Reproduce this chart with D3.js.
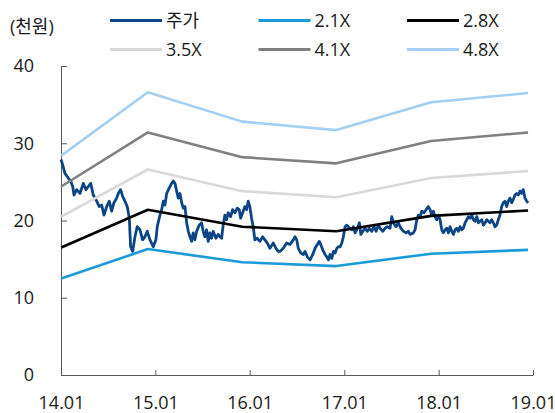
<!DOCTYPE html>
<html>
<head>
<meta charset="utf-8">
<script src="https://cdn.jsdelivr.net/npm/d3@7"></script>
<style>
  html, body { margin: 0; padding: 0; background: #fff; }
  svg { display: block; font-family: "Open Sans", "Noto Sans CJK KR", sans-serif; }
</style>
</head>
<body>
<svg id="chart" width="555" height="413"></svg>
<script>
// Price band (PBR multiple) lines, sampled at year-end points
const bandDates = ["2014-01-02", "2014-12-03", "2015-12-03", "2016-12-01", "2017-12-03", "2018-12-13"];
const band21 = [12.5, 16.3, 14.6, 14.1, 15.7, 16.2];
const band28 = [16.5, 21.4, 19.2, 18.6, 20.6, 21.3];
const band35 = [20.5, 26.6, 23.8, 23.0, 25.5, 26.4];
const band41 = [24.4, 31.4, 28.2, 27.4, 30.3, 31.4];
const band48 = [28.4, 36.6, 32.8, 31.7, 35.3, 36.5];

// Share price (천원), time given as decimal years
const priceYears = [
  2014.000, 2014.018, 2014.042, 2014.077, 2014.103, 2014.124, 2014.138, 2014.166, 2014.201, 2014.236,
  2014.265, 2014.289, 2014.315, 2014.342, 2014.378, 2014.406, 2014.431, 2014.456, 2014.484, 2014.512,
  2014.537, 2014.561, 2014.590, 2014.607, 2014.632, 2014.654, 2014.678, 2014.702, 2014.724, 2014.731,
  2014.738, 2014.760, 2014.784, 2014.808, 2014.837, 2014.865, 2014.890, 2014.914, 2014.943, 2014.978,
  2015.006, 2015.020, 2015.049, 2015.067, 2015.084, 2015.102, 2015.120, 2015.147, 2015.173, 2015.190,
  2015.208, 2015.226, 2015.243, 2015.261, 2015.279, 2015.296, 2015.314, 2015.332, 2015.349, 2015.367,
  2015.385, 2015.401, 2015.419, 2015.438, 2015.465, 2015.490, 2015.507, 2015.525, 2015.543, 2015.560,
  2015.578, 2015.596, 2015.613, 2015.642, 2015.666, 2015.684, 2015.702, 2015.719, 2015.737, 2015.755,
  2015.772, 2015.798, 2015.819, 2015.843, 2015.868, 2015.889, 2015.904, 2015.925, 2015.949, 2015.967,
  2015.984, 2016.002, 2016.020, 2016.037, 2016.055, 2016.079, 2016.108, 2016.137, 2016.161, 2016.185,
  2016.214, 2016.249, 2016.278, 2016.302, 2016.320, 2016.355, 2016.391, 2016.426, 2016.461, 2016.479,
  2016.497, 2016.514, 2016.539, 2016.567, 2016.585, 2016.609, 2016.638, 2016.667, 2016.691, 2016.715,
  2016.736, 2016.751, 2016.772, 2016.797, 2016.815, 2016.832, 2016.850, 2016.868, 2016.885, 2016.903,
  2016.921, 2016.938, 2016.956, 2016.974, 2016.990, 2017.008, 2017.026, 2017.043, 2017.061, 2017.079,
  2017.096, 2017.114, 2017.132, 2017.160, 2017.175, 2017.196, 2017.220, 2017.245, 2017.266, 2017.291,
  2017.316, 2017.337, 2017.361, 2017.379, 2017.408, 2017.432, 2017.457, 2017.485, 2017.503, 2017.520,
  2017.549, 2017.573, 2017.599, 2017.627, 2017.655, 2017.679, 2017.697, 2017.732, 2017.750, 2017.768,
  2017.785, 2017.803, 2017.821, 2017.845, 2017.867, 2017.891, 2017.909, 2017.927, 2017.944, 2017.962,
  2017.980, 2017.997, 2018.015, 2018.033, 2018.050, 2018.068, 2018.086, 2018.103, 2018.121, 2018.139,
  2018.156, 2018.174, 2018.192, 2018.209, 2018.227, 2018.245, 2018.262, 2018.280, 2018.298, 2018.315,
  2018.333, 2018.351, 2018.368, 2018.386, 2018.404, 2018.421, 2018.439, 2018.457, 2018.474, 2018.492,
  2018.510, 2018.527, 2018.544, 2018.562, 2018.580, 2018.597, 2018.615, 2018.632, 2018.650, 2018.668,
  2018.685, 2018.703, 2018.721, 2018.738, 2018.756, 2018.774, 2018.791, 2018.809, 2018.827, 2018.844,
  2018.862, 2018.880, 2018.897, 2018.915, 2018.933, 2018.950
];
const priceValues = [
  27.9, 27.2, 26.1, 25.5, 25.1, 24.4, 23.3, 24.0, 23.5, 24.8,
  24.0, 24.4, 24.8, 23.3, 22.5, 21.8, 22.0, 20.7, 21.8, 22.5,
  21.2, 22.3, 22.9, 23.5, 24.0, 23.1, 22.5, 21.8, 20.3, 18.4,
  16.6, 16.0, 17.9, 19.2, 18.8, 17.5, 17.9, 18.6, 17.5, 16.6,
  17.5, 19.2, 20.7, 21.4, 22.5, 22.0, 23.5, 24.2, 24.8, 25.1,
  24.8, 23.8, 22.9, 23.5, 22.3, 21.6, 21.8, 19.7, 18.6, 17.9,
  17.3, 18.4, 17.5, 18.6, 19.4, 19.7, 18.6, 17.9, 18.8, 17.3,
  18.4, 17.7, 18.6, 17.7, 18.2, 17.9, 17.7, 19.4, 20.7, 20.1,
  21.0, 20.5, 21.4, 21.0, 21.6, 21.4, 20.3, 21.0, 21.8, 21.4,
  22.5, 21.8, 20.3, 19.2, 17.5, 17.7, 17.3, 17.9, 17.5, 17.1,
  16.4, 17.1, 16.4, 16.0, 16.0, 16.4, 17.1, 16.9, 17.5, 17.9,
  17.5, 16.4, 15.8, 15.6, 16.0, 15.3, 14.9, 15.6, 16.4, 16.9,
  17.3, 16.9, 16.2, 15.6, 15.3, 14.9, 15.6, 15.1, 16.0, 15.8,
  16.4, 16.6, 16.6, 17.1, 17.9, 19.2, 19.4, 19.2, 19.0, 18.8,
  19.2, 18.4, 18.8, 19.7, 18.2, 18.6, 19.0, 18.6, 19.0, 18.6,
  19.2, 18.6, 19.4, 19.0, 18.6, 19.0, 19.2, 19.0, 20.5, 19.7,
  19.2, 19.7, 19.0, 18.6, 18.4, 18.6, 18.2, 18.4, 18.8, 20.1,
  20.7, 20.5, 21.2, 21.0, 21.4, 21.8, 21.4, 20.7, 21.2, 20.5,
  20.1, 20.7, 20.1, 18.8, 18.4, 18.8, 19.0, 18.4, 19.2, 18.6,
  18.2, 18.8, 19.0, 18.6, 19.2, 18.8, 19.0, 19.7, 20.1, 20.5,
  20.3, 20.7, 20.1, 19.9, 20.5, 19.7, 19.9, 20.1, 19.4, 19.7,
  20.1, 19.9, 19.7, 20.1, 19.7, 19.2, 19.4, 20.1, 20.7, 21.8,
  22.3, 22.5, 21.8, 22.5, 22.9, 22.3, 22.7, 23.3, 23.5, 23.3,
  23.8, 23.5, 24.0, 22.9, 22.5, 22.3
];

const xTicks = ["2014-01-01", "2015-01-01", "2016-01-01", "2017-01-01", "2018-01-01", "2019-01-01"];
const yTicks = [0, 10, 20, 30, 40];

const legendItems = [
  { name: "주가", color: "#0b4586" },
  { name: "2.1X", color: "#1b9ad8" },
  { name: "2.8X", color: "#000000" },
  { name: "3.5X", color: "#d9d9d9" },
  { name: "4.1X", color: "#808080" },
  { name: "4.8X", color: "#a4cff5" }
];
const bandSeries = [band21, band28, band35, band41, band48];

const parse = d3.timeParse("%Y-%m-%d");
function yearToDate(y) {
  const yr = Math.floor(y);
  const start = Date.UTC(yr, 0, 1), end = Date.UTC(yr + 1, 0, 1);
  const ms = start + (y - yr) * (end - start);
  const d = new Date(ms);
  return new Date(d.getUTCFullYear(), d.getUTCMonth(), d.getUTCDate(), d.getUTCHours());
}

const svg = d3.select("#chart");
const x = d3.scaleTime().domain([parse(xTicks[0]), parse(xTicks[xTicks.length - 1])]).range([61, 533]);
const y = d3.scaleLinear().domain([0, 40]).range([375, 66]);

const axisColor = "#595959";
const textColor = "#1a1a1a";
const fontSize = "18px";
const fontFamily = "'Open Sans', 'Noto Sans CJK KR', sans-serif";

// axes
const xAxis = svg.append("g")
  .attr("transform", "translate(0,375)")
  .call(d3.axisBottom(x).tickValues(xTicks.map(parse)).tickFormat(d3.timeFormat("%y.%m"))
    .tickSizeInner(-5).tickSizeOuter(0).tickPadding(21));
xAxis.select(".domain").attr("stroke", axisColor);
xAxis.selectAll(".tick line").attr("stroke", axisColor);
xAxis.selectAll(".tick text").attr("fill", textColor).style("font-size", fontSize)
  .style("font-family", fontFamily);

const yAxis = svg.append("g")
  .attr("transform", "translate(61,0)")
  .call(d3.axisLeft(y).tickValues(yTicks).tickSizeInner(-6).tickSizeOuter(0).tickPadding(27));
yAxis.select(".domain").attr("stroke", axisColor);
yAxis.selectAll(".tick line").attr("stroke", axisColor);
yAxis.selectAll(".tick text").attr("fill", textColor).style("font-size", fontSize)
  .style("font-family", fontFamily);

// price line
const priceData = priceYears.map((t, i) => ({ date: yearToDate(t), value: priceValues[i] }));
const line = d3.line().x(d => x(d.date)).y(d => y(d.value));
svg.append("path")
  .datum(priceData)
  .attr("fill", "none")
  .attr("stroke", legendItems[0].color)
  .attr("stroke-width", 2.8)
  .attr("stroke-linejoin", "round")
  .attr("d", line);

// band lines
bandSeries.forEach((vals, i) => {
  const data = bandDates.map((dt, j) => ({ date: parse(dt), value: vals[j] }));
  svg.append("path")
    .datum(data)
    .attr("fill", "none")
    .attr("stroke", legendItems[i + 1].color)
    .attr("stroke-width", 2.6)
    .attr("stroke-linejoin", "round")
    .attr("d", line);
});

// unit label
svg.append("text")
  .attr("x", 10).attr("y", 33)
  .attr("fill", textColor)
  .style("font-size", fontSize)
  .style("font-family", fontFamily)
  .text("(천원)");

// legend
const legend = svg.append("g");
legendItems.forEach((item, i) => {
  const col = i % 3, row = Math.floor(i / 3);
  const lx = 110 + col * 148.5, ly = 20.5 + row * 29;
  legend.append("line")
    .attr("x1", lx).attr("x2", lx + 52)
    .attr("y1", ly).attr("y2", ly)
    .attr("stroke", item.color).attr("stroke-width", 2.8);
  legend.append("text")
    .attr("x", lx + 56).attr("y", ly + 6.5)
    .attr("fill", textColor)
    .style("font-size", fontSize)
    .style("font-family", fontFamily)
    .text(item.name);
});
</script>
</body>
</html>
